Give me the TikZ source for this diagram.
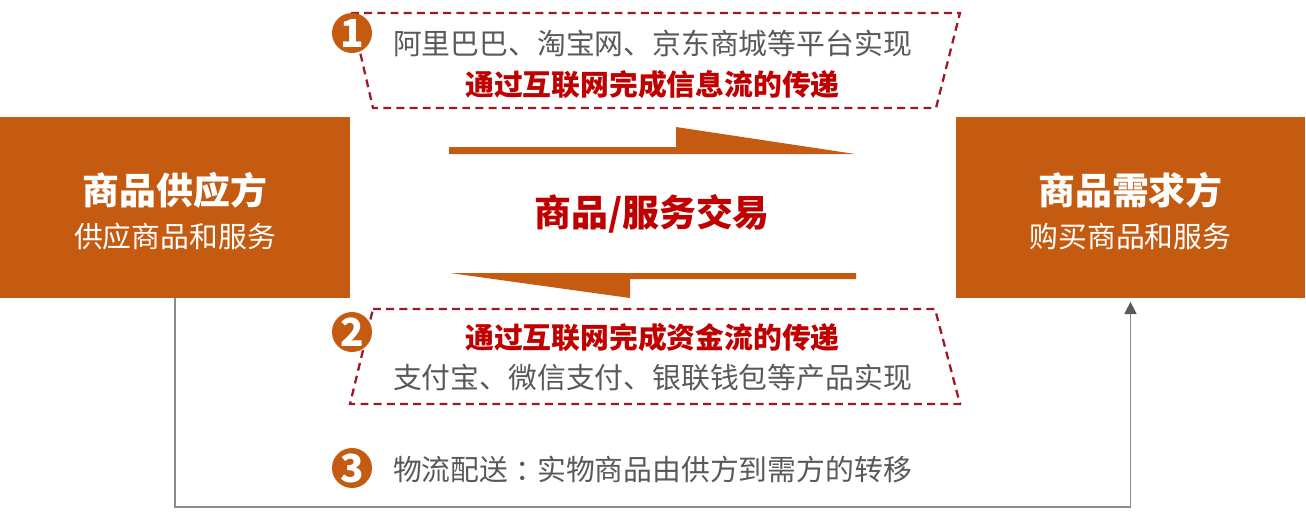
\documentclass[tikz,border=0pt]{standalone}
\usepackage{fontspec}
\setmainfont{Noto Sans CJK SC}
\usetikzlibrary{arrows.meta}

\definecolor{rust}{HTML}{C55A11}
\definecolor{deepred}{HTML}{C00000}
\definecolor{dashred}{HTML}{A01828}
\definecolor{txtgray}{HTML}{595959}
\definecolor{linegray}{HTML}{8C8C8C}

\tikzset{
  party/.style={fill=rust, minimum width=7cm, minimum height=3.62cm, inner sep=0pt},
  partyname/.style={text=white, font=\fontsize{21}{25}\selectfont\bfseries, inner sep=0pt},
  partynote/.style={text=white, font=\fontsize{16.4}{20}\selectfont, inner sep=0pt},
  graytxt/.style={text=txtgray, font=\fontsize{16.4}{20}\selectfont, inner sep=0pt},
  redtxt/.style={text=deepred, font=\fontsize{16.4}{20}\selectfont\bfseries, inner sep=0pt},
  bigred/.style={text=deepred, font=\fontsize{21}{25}\selectfont\bfseries, inner sep=0pt},
  stepnum/.style={circle, fill=rust, minimum size=0.8cm, inner sep=0pt, text=white,
    font=\fontsize{22}{24}\selectfont\bfseries},
  dashbox/.style={draw=dashred, line width=1.3pt, dash pattern=on 4.5pt off 3pt},
  halfarrow/.style={fill=rust},
  link/.style={draw=linegray, line width=0.7pt,
    -{Triangle[length=7pt,width=7pt,color=txtgray]}, shorten >=2pt}
}

\begin{document}
\begin{tikzpicture}[x=0.02cm, y=-0.02cm]
\useasboundingbox (0,0) rectangle (1306,514);

% the two parties
\node[party] (supplier) at (175,207.5) {};
\node[partyname] (supname) at (175,190) {商品供应方};
\node[partynote] (supnote) at (175,237) {供应商品和服务};

\node[party] (buyer) at (1130.5,207.5) {};
\node[partyname] (buyname) at (1130.5,190) {商品需求方};
\node[partynote] (buynote) at (1130.5,237) {购买商品和服务};

% information flow
\draw[dashbox] (351,13) -- (960,13) -- (936,108) -- (373,108) -- cycle;
\node[graytxt] (infoby) at (652.5,43) {阿里巴巴、淘宝网、京东商城等平台实现};
\node[redtxt] (info) at (652.5,85) {通过互联网完成信息流的传递};
\node[stepnum] (one) at (352,33) {1};

% trade arrows
\fill[halfarrow] (449,147) -- (676,147) -- (676,127) -- (855,154) -- (449,154) -- cycle;
\fill[halfarrow] (856,273) -- (450,273) -- (630,298) -- (630,279) -- (856,279) -- cycle;
\node[bigred] (trade) at (652,214) {商品/服务交易};

% money flow
\draw[dashbox] (373,309) -- (935,309) -- (960,404) -- (350,404) -- cycle;
\node[redtxt] (money) at (652.5,338) {通过互联网完成资金流的传递};
\node[graytxt] (moneyby) at (652.5,378) {支付宝、微信支付、银联钱包等产品实现};
\node[stepnum] (two) at (352,332) {2};

% logistics
\node[stepnum] (three) at (352,468) {3};
\node[graytxt] (goods) at (652.5,470) {物流配送\hspace{0.25em}：\hspace{-0.25em}实物商品由供方到需方的转移};
\coordinate (ground) at (652,507);
\draw[link] (supplier.south) |- (ground) -| (buyer.south);
\end{tikzpicture}
\end{document}
